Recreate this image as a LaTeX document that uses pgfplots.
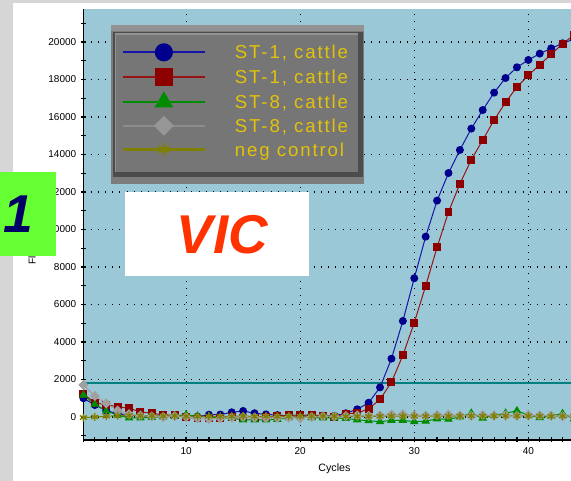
\documentclass[border=0pt]{standalone}
\usepackage{pgfplots}
\pgfplotsset{compat=1.18}
\usepackage{fontspec}
\setmainfont{Liberation Sans}
\newfontfamily\legfont[LetterSpace=10]{Liberation Sans}
\definecolor{plotbg}{RGB}{155,200,214}
\definecolor{bggray}{RGB}{214,214,214}
\definecolor{thresh}{RGB}{0,128,128}
\definecolor{cblue}{RGB}{0,0,140}
\definecolor{cbluel}{RGB}{20,20,170}
\definecolor{cred}{RGB}{140,0,0}
\definecolor{credl}{RGB}{150,20,20}
\definecolor{cgreen}{RGB}{0,140,0}
\definecolor{cgray}{RGB}{160,160,160}
\definecolor{colive}{RGB}{128,128,0}
\definecolor{legtext}{RGB}{226,194,10}
\definecolor{legouter}{RGB}{124,124,124}
\definecolor{leginner}{RGB}{118,118,118}
\definecolor{legdark}{RGB}{76,76,76}
\definecolor{leglight}{RGB}{146,146,146}
\definecolor{leggrayline}{RGB}{140,140,140}
\definecolor{leggraymark}{RGB}{150,150,150}
\definecolor{vicred}{RGB}{255,51,0}
\definecolor{boxgreen}{RGB}{102,255,51}
\definecolor{navy1}{RGB}{0,0,102}
\begin{document}
\begin{tikzpicture}
\useasboundingbox (0,0) rectangle (428.25pt,360.75pt);
\clip (0,0) rectangle (428.25pt,360.75pt);
\begin{scope}[x=0.75pt,y=0.75pt]
\fill[white] (0,0) rectangle (571,481);
\fill[bggray] (0,0) rectangle (13,481);
\fill[bggray] (0,478) rectangle (571,481);
\node[rotate=90, anchor=west, inner sep=0pt, font=\fontsize{7.5}{9}\selectfont] at (32,216) {Fluorescence};
\end{scope}

\begin{axis}[
  at={(62.55pt,30.75pt)}, anchor=south west,
  scale only axis, width=376.5pt, height=323.25pt,
  xmin=1, xmax=45, ymin=-1227, ymax=21760,
  axis background/.style={fill=plotbg},
  axis x line*=bottom, axis y line*=left,
  axis line style={line width=1pt,-},
  xtick={10,20,30,40}, minor xtick={1,...,45},
  ytick={0,2000,...,20000}, minor ytick={-1000,1000,...,21000},
  tick align=center, major tick length=3.75pt, minor tick length=3.75pt,
  every tick/.style={black, line width=0.9pt},
  grid=major,
  major grid style={black, line width=0.8pt, dash pattern=on 0.8pt off 4.6pt},
  tick label style={font=\fontsize{7.5}{9}\selectfont},
  /pgf/number format/assume math mode=true,
  /pgf/number format/set thousands separator={},
  scaled y ticks=false,
  xlabel={Cycles}, xlabel style={font=\fontsize{8}{9}\selectfont},
]
\addplot[thresh, line width=1.5pt] coordinates {(1,1800) (45,1800)};
\addplot[cbluel, line width=0.75pt, mark=*, mark size=2.6pt, mark options={fill=cblue, draw=cblue}] coordinates {
(1,1000)(2,640)(3,340)(4,180)(5,100)(6,60)(7,40)(8,30)(9,60)(10,40)(11,20)(12,120)(13,130)(14,250)(15,320)(16,200)(17,140)(18,100)(19,60)(20,50)(21,80)(22,70)(23,60)(24,200)(25,410)(26,760)(27,1580)(28,3110)(29,5120)(30,7400)(31,9620)(32,11540)(33,13010)(34,14240)(35,15380)(36,16370)(37,17300)(38,18080)(39,18650)(40,19040)(41,19380)(42,19660)(43,19930)(44,20150)(45,20350)};
\addplot[credl, line width=0.75pt, mark=square*, mark size=2.6pt, mark options={fill=cred, draw=cred}] coordinates {
(1,1230)(2,760)(3,650)(4,550)(5,460)(6,270)(7,200)(8,110)(9,100)(10,-20)(11,-70)(12,-80)(13,-60)(14,-20)(15,-30)(16,-30)(17,-20)(18,30)(19,100)(20,100)(21,110)(22,60)(23,0)(24,180)(25,210)(26,430)(27,940)(28,1850)(29,3290)(30,5030)(31,6990)(32,9050)(33,10930)(34,12440)(35,13720)(36,14770)(37,15840)(38,16780)(39,17600)(40,18220)(41,18790)(42,19340)(43,19910)(44,20370)(45,20700)};
\addplot[cgreen, line width=0.75pt, mark=triangle*, mark size=3pt, mark options={fill=cgreen, draw=cgreen}] coordinates {
(1,1170)(2,680)(3,320)(4,100)(5,-50)(6,-50)(7,-20)(8,0)(9,50)(10,120)(11,50)(12,0)(13,-40)(14,-50)(15,-160)(16,-160)(17,-160)(18,-130)(19,-30)(20,0)(21,-30)(22,-50)(23,-50)(24,-80)(25,-150)(26,-200)(27,-250)(28,-180)(29,-180)(30,-250)(31,-220)(32,-100)(33,-120)(34,0)(35,200)(36,-60)(37,80)(38,200)(39,330)(40,100)(41,-30)(42,60)(43,180)(44,-100)(45,0)};
\addplot[cgray, line width=0.75pt, mark=square*, mark size=2.3pt, mark options={fill=cgray, draw=cgray, rotate=45}] coordinates {
(1,1710)(2,1120)(3,730)(4,340)(5,150)(6,80)(7,30)(8,0)(9,50)(10,0)(11,-70)(12,-100)(13,-70)(14,-30)(15,0)(16,-30)(17,-50)(18,-50)(19,-30)(20,-70)(21,0)(22,30)(23,30)(24,50)(25,80)(26,60)(27,80)(28,140)(29,140)(30,80)(31,60)(32,100)(33,120)(34,80)(35,60)(36,100)(37,80)(38,80)(39,60)(40,100)(41,80)(42,60)(43,40)(44,60)(45,60)};
\addplot[colive, line width=0.75pt, mark=asterisk, mark size=3pt, mark options={colive, line width=1pt}] coordinates {
(1,-30)(2,0)(3,40)(4,70)(5,80)(6,60)(7,60)(8,50)(9,60)(10,40)(11,30)(12,40)(13,30)(14,40)(15,50)(16,30)(17,40)(18,30)(19,40)(20,40)(21,50)(22,50)(23,40)(24,30)(25,30)(26,30)(27,40)(28,50)(29,40)(30,40)(31,40)(32,50)(33,40)(34,50)(35,60)(36,50)(37,50)(38,60)(39,60)(40,50)(41,50)(42,40)(43,50)(44,50)(45,50)};
\end{axis}

\begin{scope}[x=0.75pt,y=0.75pt]
\fill[legouter] (111,297) rectangle (364,456);
\fill[leglight] (111,450) rectangle (364,456);
\fill[legdark] (113,304) rectangle (363,449);
\fill[leglight] (114.5,309) rectangle (358,447.5);
\fill[leginner] (116,309) rectangle (358,446);
\end{scope}

\begin{axis}[
  at={(62.55pt,30.75pt)}, anchor=south west,
  scale only axis, width=376.5pt, height=323.25pt,
  xmin=0, xmax=1, ymin=0, ymax=1, hide axis,
  legend image code/.code={\draw[mark repeat=2,mark phase=2,#1] plot coordinates {(0pt,0pt) (30.75pt,0pt) (61.5pt,0pt)};},
  legend style={at={(0.0765,0.918)}, anchor=north west, draw=none, fill=none,
    inner sep=0pt, outer sep=0pt, row sep=6.4pt, column sep=21.75pt,
    nodes={inner sep=0pt, text height=10pt, text depth=0pt, font=\legfont\fontsize{14}{14}\selectfont, text=legtext}},
  legend cell align=left,
]
\addlegendimage{cbluel, line width=1.6pt, mark=*, mark size=6pt, mark options={fill=cblue, draw=cblue}}
\addlegendentry{ST-1, cattle}
\addlegendimage{credl, line width=1.6pt, mark=square*, mark size=6pt, mark options={fill=cred, draw=cred}}
\addlegendentry{ST-1, cattle}
\addlegendimage{cgreen, line width=1.6pt, mark=triangle*, mark size=6.5pt, mark options={fill=cgreen, draw=cgreen}}
\addlegendentry{ST-8, cattle}
\addlegendimage{leggrayline, line width=1.6pt, mark=square*, mark size=4.5pt, mark options={fill=leggraymark, draw=leggraymark, rotate=45}}
\addlegendentry{ST-8, cattle}
\addlegendimage{colive, line width=1.6pt, mark=asterisk, mark size=4.5pt, mark options={colive, line width=1.4pt}}
\addlegendentry{neg control}
\end{axis}

\begin{scope}[x=0.75pt,y=0.75pt]
\fill[white] (125,205) rectangle (309,289);
\node[text=vicred, font=\fontsize{41}{41}\bfseries\itshape\selectfont, inner sep=0pt] at (222.5,246.5) {VIC};
\fill[boxgreen] (0,225) rectangle (56,309);
\node[text=navy1, font=\fontsize{40}{40}\bfseries\itshape\selectfont, inner sep=0pt] at (18,267) {1};
\end{scope}
\end{tikzpicture}
\end{document}
